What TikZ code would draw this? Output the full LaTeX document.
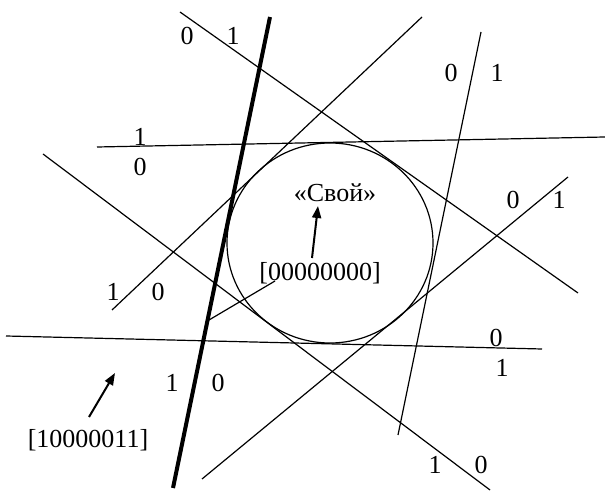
\documentclass[tikz,border=0pt]{standalone}
\usepackage{fontspec}
\setmainfont{Liberation Serif}
\usetikzlibrary{arrows.meta}
\begin{document}
\begin{tikzpicture}[x=0.5pt,y=-0.5pt,
  ln/.style={line width=0.6pt},
  thk/.style={line width=2pt},
  lbl/.style={inner sep=0pt,font=\fontsize{13}{15}\selectfont},
  arr/.style={line width=1pt,-{Triangle[length=6pt,width=4.5pt]}}]
\useasboundingbox (0,0) rectangle (605,491);
% lines
\coordinate (a1) at (180,12);  \coordinate (a2) at (578,293);
\coordinate (b1) at (422,17);  \coordinate (b2) at (112,310);
\coordinate (c1) at (97,147);  \coordinate (c2) at (605,137);
\coordinate (d1) at (43,154);  \coordinate (d2) at (490,490);
\coordinate (e1) at (481,32);  \coordinate (e2) at (398,435);
\coordinate (f1) at (568,177); \coordinate (f2) at (202,479);
\coordinate (g1) at (6,336);   \coordinate (g2) at (542,349);
\coordinate (h1) at (270,17);  \coordinate (h2) at (173,488);
\coordinate (k1) at (209,320); \coordinate (k2) at (275,281);
\draw[ln] (a1) -- (a2);
\draw[ln] (b1) -- (b2);
\draw[ln] (c1) -- (c2);
\draw[ln] (d1) -- (d2);
\draw[ln] (e1) -- (e2);
\draw[ln] (f1) -- (f2);
\draw[ln] (g1) -- (g2);
\draw[ln] (k1) -- (k2);
\draw[thk] (h1) -- (h2);
% circle
\coordinate (o) at (330,243);
\draw[ln] (o) ellipse [x radius=103, y radius=100];
% labels
\node[lbl] (la0) at (187,36) {0};
\node[lbl] (la1) at (233,36) {1};
\node[lbl] (lc1) at (140,137) {1};
\node[lbl] (lc0) at (140,167) {0};
\node[lbl] (lb1) at (113,292) {1};
\node[lbl] (lb0) at (158,292) {0};
\node[lbl] (lh1) at (172,383) {1};
\node[lbl] (lh0) at (218,383) {0};
\node[lbl] (le0) at (451,73) {0};
\node[lbl] (le1) at (497,73) {1};
\node[lbl] (lf0) at (513,200) {0};
\node[lbl] (lf1) at (559,200) {1};
\node[lbl] (lg0) at (496,338) {0};
\node[lbl] (lg1) at (502,368) {1};
\node[lbl] (ld1) at (435,465) {1};
\node[lbl] (ld0) at (481,465) {0};
\node[lbl] (svoi) at (335,193) {«Свой»};
\node[lbl] (zero) at (320,273) {[00000000]};
\node[lbl] (ext) at (88,440) {[10000011]};
% arrows
\coordinate (p1) at (312,258); \coordinate (p2) at (318,206);
\coordinate (q1) at (89,417);  \coordinate (q2) at (115,373);
\draw[arr] (p1) -- (p2);
\draw[arr] (q1) -- (q2);
\end{tikzpicture}
\end{document}
